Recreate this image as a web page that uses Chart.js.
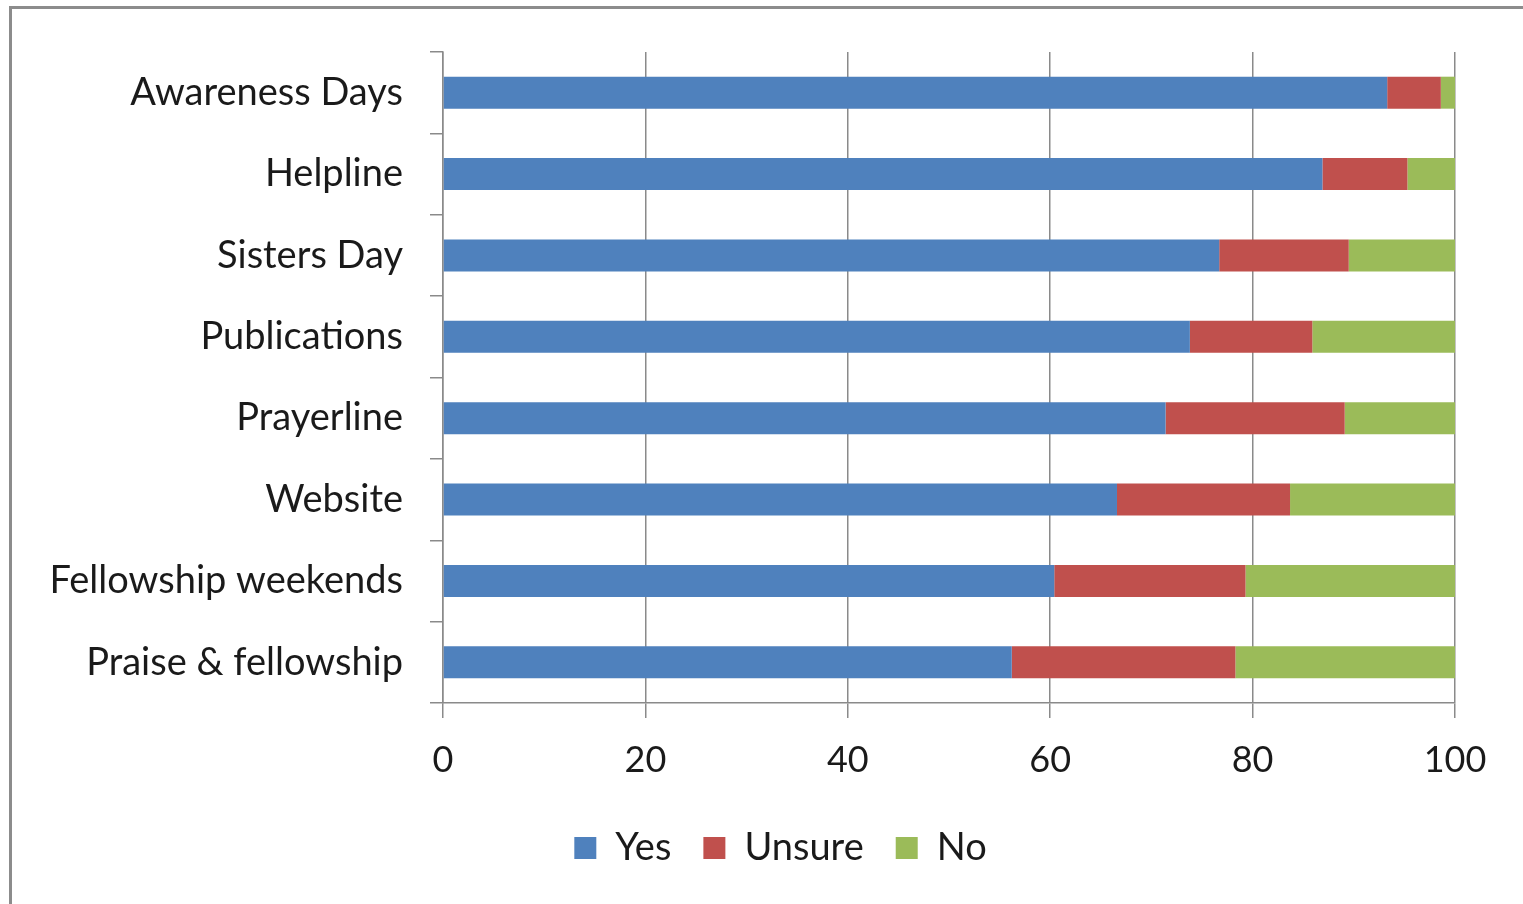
<!DOCTYPE html>
<html>
<head>
<meta charset="utf-8">
<script src="https://cdn.jsdelivr.net/npm/chart.js@4/dist/chart.umd.min.js"></script>
<style>
  html, body { margin: 0; padding: 0; background: #ffffff; overflow: hidden; }
  #frame {
    position: absolute; left: 9px; top: 6px; width: 1700px; height: 1100px;
    border: 3px solid #8c8c8c; box-sizing: border-box;
  }
  #chartbox { position: absolute; left: 0; top: 0; width: 1523px; height: 904px; }
</style>
</head>
<body>
<div id="frame"></div>
<div id="chartbox"><canvas id="surveychart" width="1523" height="904"></canvas></div>
<script>
const categories = [
  "Awareness Days",
  "Helpline",
  "Sisters Day",
  "Publications",
  "Prayerline",
  "Website",
  "Fellowship weekends",
  "Praise & fellowship",
];
const yesValues = [93.3, 86.9, 76.7, 73.8, 71.4, 66.6, 60.4, 56.2];
const unsureValues = [5.3, 8.4, 12.8, 12.1, 17.7, 17.1, 18.9, 22.1];
const noValues = [1.4, 4.7, 10.5, 14.1, 10.9, 16.3, 20.7, 21.7];
const xTicks = [0, 20, 40, 60, 80, 100];

const fontFamily = "Lato, 'Open Sans', sans-serif";
const textColor = "#1a1a1a";
const lineColor = "#8a8a8a";

const surveychart = document.getElementById("surveychart").getContext("2d");

// the legend in the original is centred on the whole picture, not on the plot
const legendshift = {
  id: "legendshift",
  afterLayout(chart) {
    chart.legend.left += 53;
    chart.legend.right += 53;
  },
};

new Chart(surveychart, {
  type: "bar",
  data: {
    labels: categories,
    datasets: [
      { label: "Yes", data: yesValues, backgroundColor: "#4f81bd" },
      { label: "Unsure", data: unsureValues, backgroundColor: "#c0504d" },
      { label: "No", data: noValues, backgroundColor: "#9bbb59" },
    ],
  },
  plugins: [legendshift],
  options: {
    indexAxis: "y",
    responsive: false,
    animation: false,
    devicePixelRatio: 1,
    categoryPercentage: 1,
    barPercentage: 0.393,
    layout: { padding: { top: 52, right: 68, bottom: 27, left: 0 } },
    plugins: {
      tooltip: { enabled: false },
      legend: {
        position: "bottom",
        labels: {
          color: textColor,
          font: { family: fontFamily, size: 38 },
          boxWidth: 22,
          boxHeight: 22,
          padding: 32,
        },
      },
    },
    scales: {
      x: {
        stacked: true,
        min: 0,
        max: 100,
        afterBuildTicks: (scale) => {
          scale.ticks = xTicks.map((v) => ({ value: v }));
        },
        afterFit: (scale) => {
          scale.height = 94;
        },
        ticks: {
          color: textColor,
          font: { family: fontFamily, size: 36 },
          padding: 21,
          maxRotation: 0,
        },
        grid: { color: lineColor, lineWidth: 1.5, tickLength: 15 },
        border: { color: lineColor, width: 1.5 },
      },
      y: {
        stacked: true,
        afterFit: (scale) => {
          scale.width = 443;
        },
        ticks: {
          color: textColor,
          font: { family: fontFamily, size: 38 },
          padding: 27,
        },
        grid: {
          drawOnChartArea: false,
          drawTicks: true,
          tickLength: 13,
          offset: true,
          color: lineColor,
          lineWidth: 1.5,
        },
        border: { color: lineColor, width: 1.5 },
      },
    },
  },
});
</script>
</body>
</html>
